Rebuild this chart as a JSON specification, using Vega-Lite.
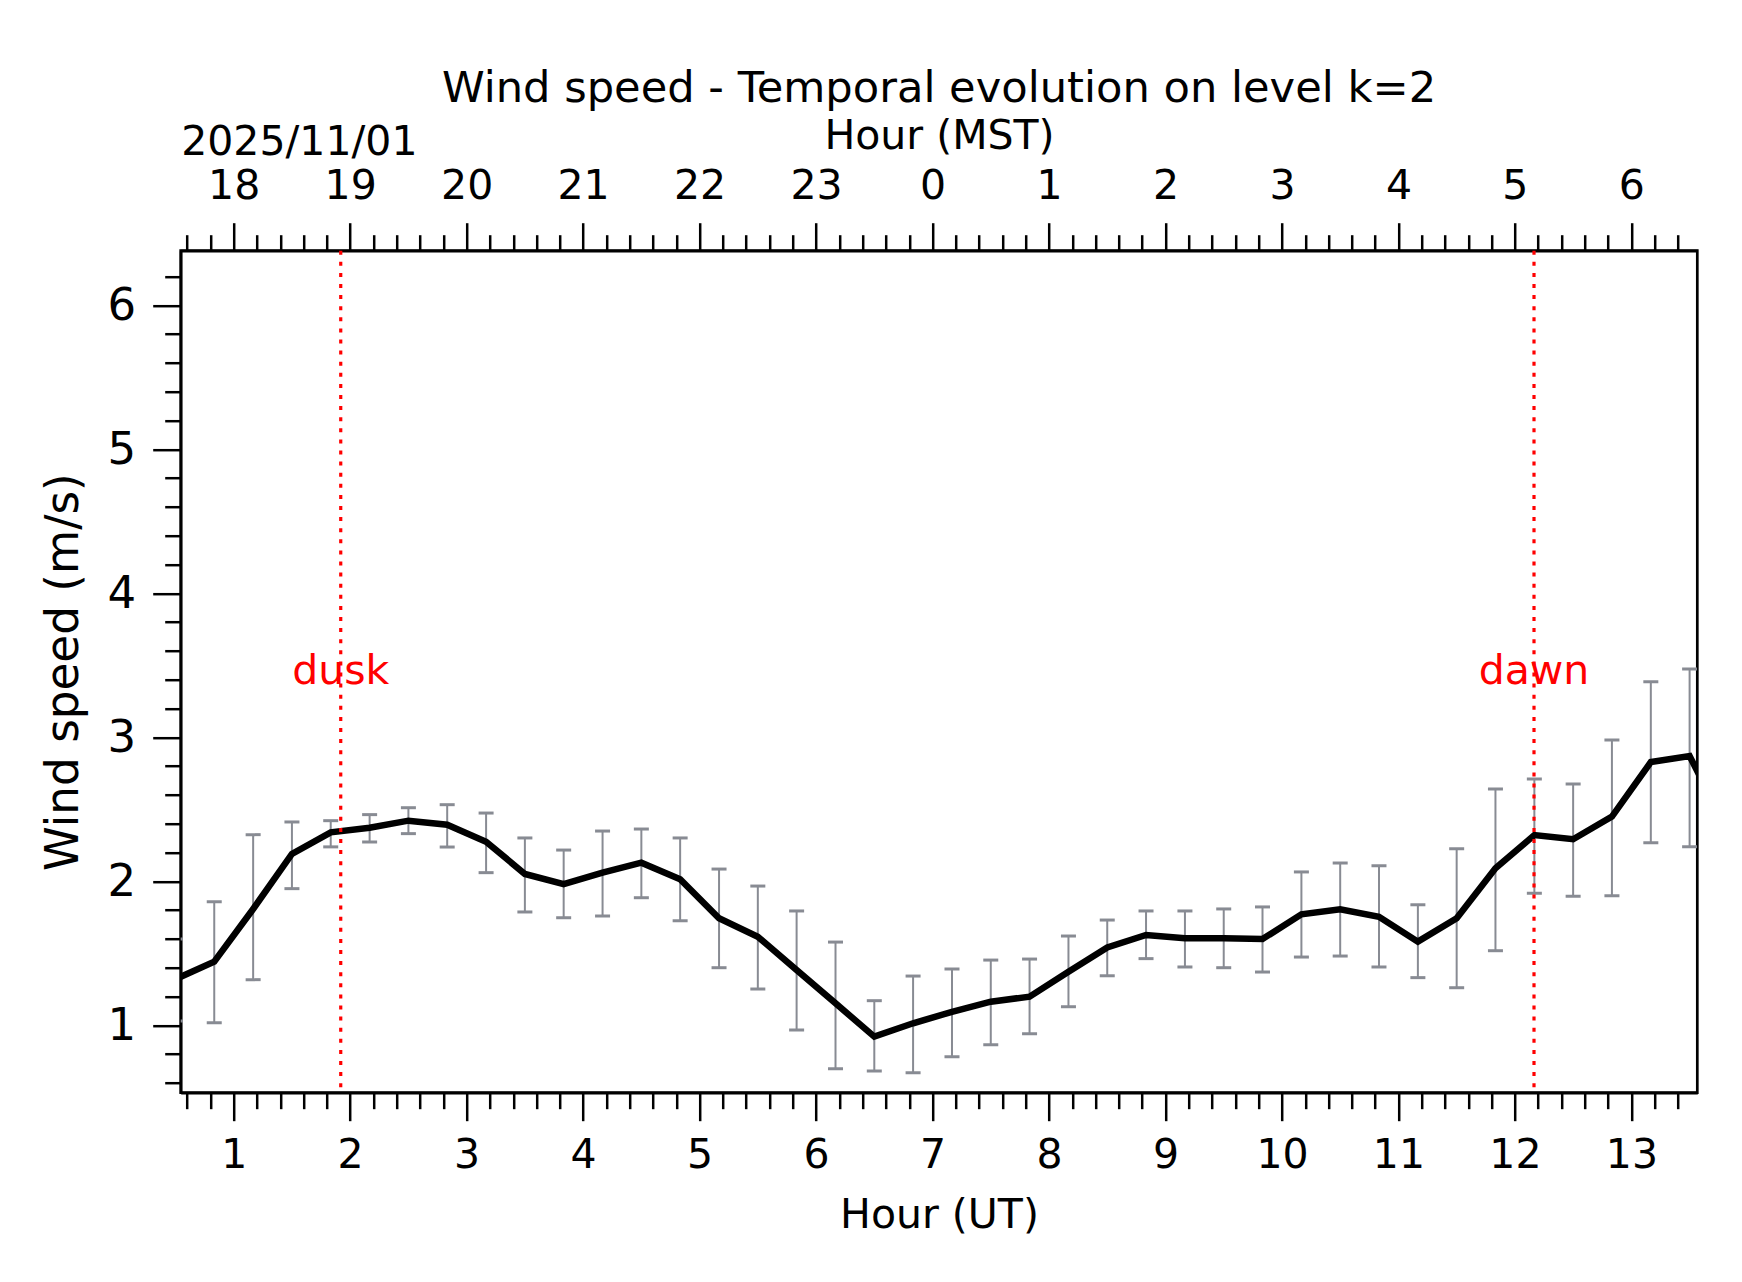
{
  "$schema": "https://vega.github.io/schema/vega-lite/v6.json",
  "width": 1516.6,
  "height": 842,
  "autosize": {"type": "none"},
  "padding": {"left": 180.7, "top": 250.7, "right": 44.7, "bottom": 189.3},
  "background": "white",
  "title": {"text": "Wind speed - Temporal evolution on level k=2", "fontSize": 43.2, "font": "DejaVu Sans", "fontWeight": "normal", "color": "black", "anchor": "middle", "offset": 5},
  "datasets": {
    "wind": [
      {"t": 0.5, "v": 1.32, "lo": 1.03, "hi": 1.6},
      {"t": 0.833, "v": 1.442, "lo": 1.018, "hi": 1.858},
      {"t": 1.167, "v": 1.808, "lo": 1.317, "hi": 2.324},
      {"t": 1.5, "v": 2.19, "lo": 1.949, "hi": 2.412},
      {"t": 1.833, "v": 2.34, "lo": 2.239, "hi": 2.421},
      {"t": 2.167, "v": 2.372, "lo": 2.273, "hi": 2.463},
      {"t": 2.5, "v": 2.421, "lo": 2.331, "hi": 2.511},
      {"t": 2.833, "v": 2.393, "lo": 2.238, "hi": 2.532},
      {"t": 3.167, "v": 2.275, "lo": 2.06, "hi": 2.474},
      {"t": 3.5, "v": 2.051, "lo": 1.787, "hi": 2.301},
      {"t": 3.833, "v": 1.981, "lo": 1.747, "hi": 2.217},
      {"t": 4.167, "v": 2.06, "lo": 1.759, "hi": 2.349},
      {"t": 4.5, "v": 2.129, "lo": 1.886, "hi": 2.363},
      {"t": 4.833, "v": 2.014, "lo": 1.726, "hi": 2.301},
      {"t": 5.167, "v": 1.743, "lo": 1.4, "hi": 2.085},
      {"t": 5.5, "v": 1.615, "lo": 1.252, "hi": 1.967},
      {"t": 5.833, "v": 1.384, "lo": 0.967, "hi": 1.794},
      {"t": 6.167, "v": 1.153, "lo": 0.699, "hi": 1.578},
      {"t": 6.5, "v": 0.921, "lo": 0.683, "hi": 1.171},
      {"t": 6.833, "v": 1.014, "lo": 0.671, "hi": 1.342},
      {"t": 7.167, "v": 1.094, "lo": 0.782, "hi": 1.391},
      {"t": 7.5, "v": 1.164, "lo": 0.865, "hi": 1.453},
      {"t": 7.833, "v": 1.199, "lo": 0.942, "hi": 1.46},
      {"t": 8.167, "v": 1.372, "lo": 1.129, "hi": 1.62},
      {"t": 8.5, "v": 1.541, "lo": 1.344, "hi": 1.731},
      {"t": 8.833, "v": 1.627, "lo": 1.463, "hi": 1.794},
      {"t": 9.167, "v": 1.604, "lo": 1.405, "hi": 1.794},
      {"t": 9.5, "v": 1.604, "lo": 1.4, "hi": 1.808},
      {"t": 9.833, "v": 1.599, "lo": 1.37, "hi": 1.822},
      {"t": 10.167, "v": 1.771, "lo": 1.474, "hi": 2.065},
      {"t": 10.5, "v": 1.806, "lo": 1.481, "hi": 2.127},
      {"t": 10.833, "v": 1.754, "lo": 1.405, "hi": 2.108},
      {"t": 11.167, "v": 1.581, "lo": 1.331, "hi": 1.837},
      {"t": 11.5, "v": 1.743, "lo": 1.261, "hi": 2.226},
      {"t": 11.833, "v": 2.09, "lo": 1.518, "hi": 2.641},
      {"t": 12.167, "v": 2.321, "lo": 1.917, "hi": 2.71},
      {"t": 12.5, "v": 2.292, "lo": 1.896, "hi": 2.676},
      {"t": 12.833, "v": 2.449, "lo": 1.9, "hi": 2.981},
      {"t": 13.167, "v": 2.828, "lo": 2.268, "hi": 3.386},
      {"t": 13.5, "v": 2.87, "lo": 2.24, "hi": 3.474},
      {"t": 13.833, "v": 2.34, "lo": 1.9, "hi": 2.8}
    ],
    "events": [
      {"t": 1.919, "label": "dusk"},
      {"t": 12.164, "label": "dawn"}
    ]
  },
  "config": {
    "view": {"stroke": "black", "strokeWidth": 2.7},
    "axis": {
      "grid": false,
      "domainColor": "black",
      "tickColor": "black",
      "labelColor": "black",
      "titleColor": "black",
      "labelFont": "DejaVu Sans",
      "titleFont": "DejaVu Sans",
      "titleFontWeight": "normal",
      "labelFlush": false,
      "labelOverlap": false,
      "labelBound": false,
      "domainWidth": 2.7,
      "tickWidth": 2.5
    },
    "text": {"font": "DejaVu Sans"}
  },
  "layer": [
    {
      "data": {"name": "wind"},
      "mark": {"type": "rule", "color": "#888b93", "strokeWidth": 2, "clip": true},
      "encoding": {
        "x": {"field": "t", "type": "quantitative",
              "scale": {"domain": [0.545, 13.566], "nice": false, "zero": false},
              "axis": {"orient": "top", "values": [1,2,3,4,5,6,7,8,9,10,11,12,13], "tickSize": 28, "labelFontSize": 41, "labelPadding": 15,
                       "labelExpr": "'' + ((datum.value + 17) % 24)", "title": "Hour (MST)", "titleFontSize": 41, "titleY": -102, "titleBaseline": "alphabetic"}},
        "y": {"field": "lo", "type": "quantitative",
              "scale": {"domain": [0.532, 6.379], "nice": false, "zero": false},
              "axis": {"orient": "left", "values": [0.6,0.8,1.2,1.4,1.6,1.8,2.2,2.4,2.6,2.8,3.2,3.4,3.6,3.8,4.2,4.4,4.6,4.8,5.2,5.4,5.6,5.8,6.2],
                       "tickSize": 16, "labels": false, "domain": false, "title": null}},
        "y2": {"field": "hi"}
      }
    },
    {
      "data": {"name": "wind"},
      "mark": {"type": "tick", "orient": "horizontal", "color": "#888b93", "size": 15, "thickness": 3, "opacity": 1, "clip": true},
      "encoding": {
        "x": {"field": "t", "type": "quantitative",
              "scale": {"domain": [0.545, 13.566], "nice": false, "zero": false},
              "axis": {"orient": "bottom", "values": [0.6,0.8,1.2,1.4,1.6,1.8,2.2,2.4,2.6,2.8,3.2,3.4,3.6,3.8,4.2,4.4,4.6,4.8,5.2,5.4,5.6,5.8,6.2,6.4,6.6,6.8,7.2,7.4,7.6,7.8,8.2,8.4,8.6,8.8,9.2,9.4,9.6,9.8,10.2,10.4,10.6,10.8,11.2,11.4,11.6,11.8,12.2,12.4,12.6,12.8,13.2,13.4],
                       "tickSize": 16, "labels": false, "domain": false, "title": null}},
        "y": {"field": "lo", "type": "quantitative",
              "scale": {"domain": [0.532, 6.379], "nice": false, "zero": false}, "axis": null}
      }
    },
    {
      "data": {"name": "wind"},
      "mark": {"type": "tick", "orient": "horizontal", "color": "#888b93", "size": 15, "thickness": 3, "opacity": 1, "clip": true},
      "encoding": {
        "x": {"field": "t", "type": "quantitative",
              "scale": {"domain": [0.545, 13.566], "nice": false, "zero": false},
              "axis": {"orient": "top", "values": [0.6,0.8,1.2,1.4,1.6,1.8,2.2,2.4,2.6,2.8,3.2,3.4,3.6,3.8,4.2,4.4,4.6,4.8,5.2,5.4,5.6,5.8,6.2,6.4,6.6,6.8,7.2,7.4,7.6,7.8,8.2,8.4,8.6,8.8,9.2,9.4,9.6,9.8,10.2,10.4,10.6,10.8,11.2,11.4,11.6,11.8,12.2,12.4,12.6,12.8,13.2,13.4],
                       "tickSize": 16, "labels": false, "domain": false,
                       "title": "2025/11/01", "titleFontSize": 41, "titleX": 0, "titleY": -96.4, "titleAlign": "left", "titleAnchor": "start", "titleBaseline": "alphabetic"}},
        "y": {"field": "hi", "type": "quantitative",
              "scale": {"domain": [0.532, 6.379], "nice": false, "zero": false}, "axis": null}
      }
    },
    {
      "data": {"name": "wind"},
      "mark": {"type": "line", "color": "black", "strokeWidth": 6.5, "clip": true},
      "encoding": {
        "x": {"field": "t", "type": "quantitative",
              "scale": {"domain": [0.545, 13.566], "nice": false, "zero": false},
              "axis": {"orient": "bottom", "values": [1,2,3,4,5,6,7,8,9,10,11,12,13], "tickSize": 28, "labelFontSize": 41, "labelPadding": 15,
                       "title": "Hour (UT)", "titleFontSize": 41, "titleY": 134.6, "titleBaseline": "alphabetic"}},
        "y": {"field": "v", "type": "quantitative",
              "scale": {"domain": [0.532, 6.379], "nice": false, "zero": false},
              "axis": {"orient": "left", "values": [1,2,3,4,5,6], "tickSize": 28, "labelFontSize": 45, "labelPadding": 17,
                       "title": "Wind speed (m/s)", "titleFontSize": 45.3, "titleX": -103.7, "titleBaseline": "alphabetic", "titleAngle": -90}}
      }
    },
    {
      "data": {"name": "events"},
      "mark": {"type": "rule", "color": "#ff0000", "strokeWidth": 3.2, "strokeDash": [4, 7.1]},
      "encoding": {
        "x": {"field": "t", "type": "quantitative",
              "scale": {"domain": [0.545, 13.566], "nice": false, "zero": false}, "axis": null}
      }
    },
    {
      "data": {"name": "events"},
      "mark": {"type": "text", "color": "#ff0000", "fontSize": 41, "align": "center", "baseline": "alphabetic"},
      "encoding": {
        "x": {"field": "t", "type": "quantitative",
              "scale": {"domain": [0.545, 13.566], "nice": false, "zero": false}, "axis": null},
        "y": {"datum": 3.37, "type": "quantitative",
              "scale": {"domain": [0.532, 6.379], "nice": false, "zero": false}, "axis": null},
        "text": {"field": "label"}
      }
    }
  ],
  "resolve": {"axis": {"x": "independent", "y": "independent"}}
}
